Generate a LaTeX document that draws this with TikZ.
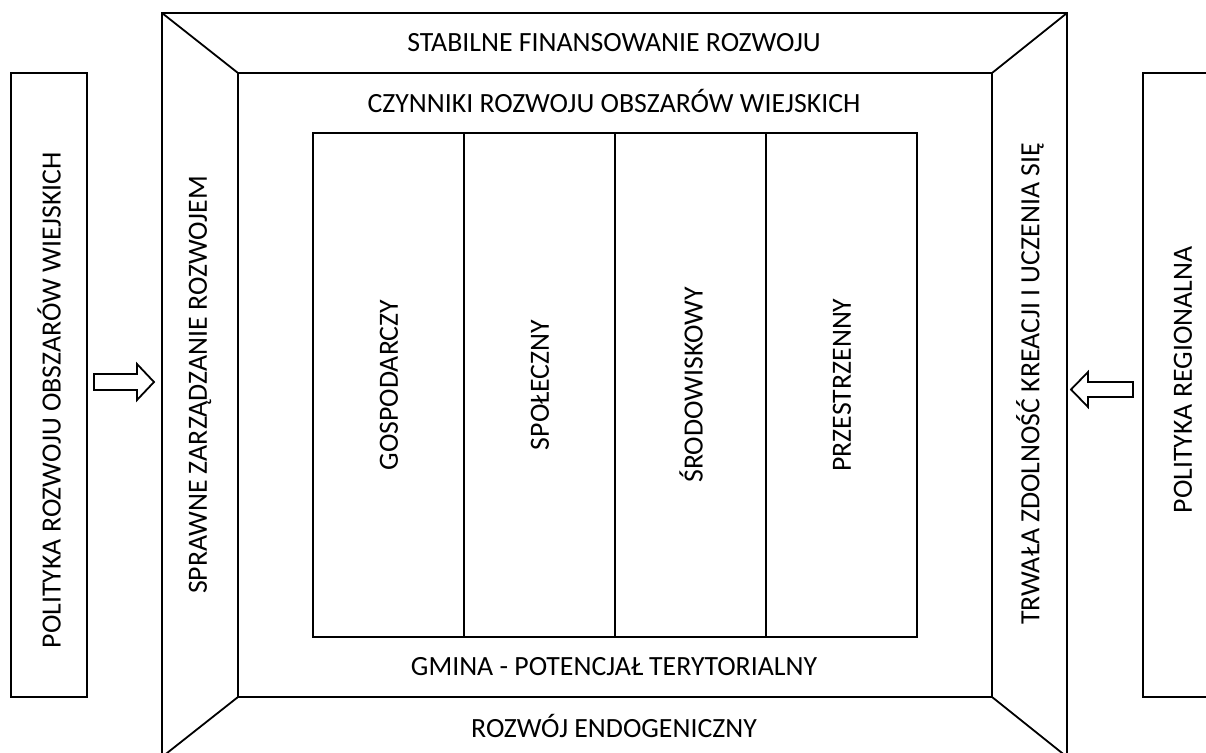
\documentclass[tikz,border=0pt]{standalone}
\usepackage{fontspec}
\setmainfont{Carlito}
\begin{document}
\begin{tikzpicture}[x=1pt,y=-1pt,
  frame/.style={draw=black,line width=1.8pt},
  lbl/.style={font=\fontsize{27.8}{32}\selectfont,inner sep=0pt},
  vlbl/.style={lbl,rotate=90},
  blockarrow/.style={draw=black,line width=1.8pt,fill=white,line join=miter}]
\useasboundingbox (0,0) rectangle (1206,752);
\begin{scope}
\clip (0,0) rectangle (1206,752);
% outer frame and inner frame corners
\coordinate (o1) at (162,13);
\coordinate (o2) at (1067,13);
\coordinate (o3) at (1067,757);
\coordinate (o4) at (162,757);
\coordinate (i1) at (238,73);
\coordinate (i2) at (992,73);
\coordinate (i3) at (992,697);
\coordinate (i4) at (238,697);
\draw[frame] (o1) rectangle (o3);
\draw[frame] (i1) rectangle (i3);
\draw[frame] (o1) -- (i1);
\draw[frame] (o2) -- (i2);
\draw[frame] (o3) -- (i3);
\draw[frame] (o4) -- (i4);
% innermost box with four columns
\coordinate (c0t) at (313,133); \coordinate (c0b) at (313,637);
\coordinate (c1t) at (464,133); \coordinate (c1b) at (464,637);
\coordinate (c2t) at (615,133); \coordinate (c2b) at (615,637);
\coordinate (c3t) at (766,133); \coordinate (c3b) at (766,637);
\coordinate (c4t) at (917,133); \coordinate (c4b) at (917,637);
\draw[frame] (c0t) rectangle (c4b);
\draw[frame] (c1t) -- (c1b);
\draw[frame] (c2t) -- (c2b);
\draw[frame] (c3t) -- (c3b);
% side boxes
\draw[frame] (11,73) rectangle (87,697);
\draw[frame] (1143,73) rectangle (1219,697);
% block arrows
\draw[blockarrow] (94,374) -- (137,374) -- (137,364) -- (154,382) -- (137,400) -- (137,390) -- (94,390) -- cycle;
\draw[blockarrow] (1133,382) -- (1088,382) -- (1088,372) -- (1071,389.5) -- (1088,407) -- (1088,397) -- (1133,397) -- cycle;
\end{scope}
% labels
\node[lbl,anchor=base] (top) at (614,52) {STABILNE FINANSOWANIE ROZWOJU};
\node[lbl,anchor=base] (czy) at (614,112) {CZYNNIKI ROZWOJU OBSZARÓW WIEJSKICH};
\node[lbl,anchor=base] (gmi) at (614,675) {GMINA - POTENCJAŁ TERYTORIALNY};
\node[lbl,anchor=base] (bot) at (614,737) {ROZWÓJ ENDOGENICZNY};
\node[vlbl] (lpol) at (49,400) {POLITYKA ROZWOJU OBSZARÓW WIEJSKICH};
\node[vlbl] (spr) at (200,385) {SPRAWNE ZARZĄDZANIE ROZWOJEM};
\node[vlbl] (trw) at (1030,384) {TRWAŁA ZDOLNOŚĆ KREACJI I UCZENIA SIĘ};
\node[vlbl] (rpol) at (1183,380) {POLITYKA REGIONALNA};
\node[vlbl] (gos) at (389,385) {GOSPODARCZY};
\node[vlbl] (spo) at (540,385) {SPOŁECZNY};
\node[vlbl] (sro) at (691,385) {ŚRODOWISKOWY};
\node[vlbl] (prz) at (842,385) {PRZESTRZENNY};
\end{tikzpicture}
\end{document}
